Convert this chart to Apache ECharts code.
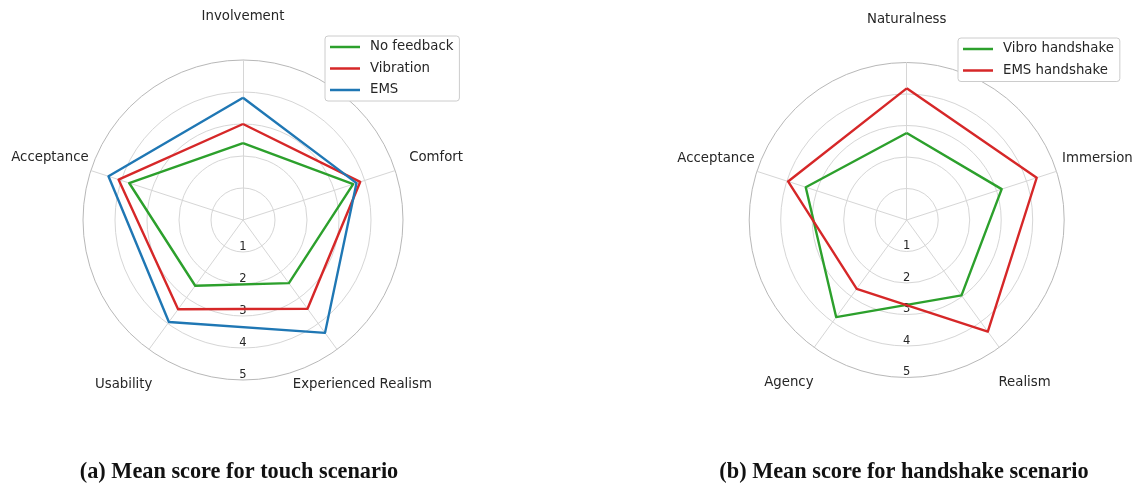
<!DOCTYPE html>
<html>
<head>
<meta charset="utf-8">
<script src="https://cdn.jsdelivr.net/npm/echarts@6/dist/echarts.min.js"></script>
<style>
html,body{margin:0;padding:0;background:#fff;}
#c{width:1136px;height:485px;}
</style>
</head>
<body>
<div id="c"></div>
<script>
// ---- data ----
const touchCategories = ['Involvement', 'Comfort', 'Experienced Realism', 'Usability', 'Acceptance'];
const touchNoFeedback = [2.40, 3.62, 2.44, 2.54, 3.74];
const touchVibration  = [3.00, 3.85, 3.43, 3.45, 4.09];
const touchEMS        = [3.82, 3.73, 4.36, 3.94, 4.42];

const shakeCategories = ['Naturalness', 'Immersion', 'Realism', 'Agency', 'Acceptance'];
const shakeVibro = [2.76, 3.17, 2.96, 3.81, 3.37];
const shakeEMS   = [4.18, 4.34, 4.38, 2.70, 3.96];

const tickLabels = ['1', '2', '3', '4', '5'];
const scoreMax = 5;

const captionA = '(a) Mean score for touch scenario';
const captionB = '(b) Mean score for handshake scenario';

// ---- helpers ----
const GREEN = '#2ca02c', RED = '#d62728', BLUE = '#1f77b4';
const FONT = 'DejaVu Sans';
// ECharts radar runs counter-clockwise; reference runs clockwise -> reorder
function cw(arr) { return [arr[0]].concat(arr.slice(1).reverse()); }

function radarCfg(cats, center, radius) {
  return {
    center: center,
    radius: radius,
    startAngle: 90,
    shape: 'circle',
    splitNumber: 5,
    indicator: cw(cats).map(n => ({ name: n, min: 0, max: scoreMax })),
    nameGap: 43,
    axisName: { color: '#262626', fontSize: 13.3, fontFamily: FONT, align: 'center', verticalAlign: 'middle' },
    splitArea: { show: false },
    splitLine: { lineStyle: { color: ['#d6d6d6', '#d6d6d6', '#d6d6d6', '#d6d6d6', '#d6d6d6', '#b8b8b8'], width: 1 } },
    axisLine: { lineStyle: { color: '#d6d6d6', width: 1 } },
    axisTick: { show: false },
    axisLabel: { show: false }
  };
}
function polarCfg(center, radius) {
  return { center: center, radius: radius };
}
function radarSeries(idx, name, vals, color) {
  return {
    type: 'radar', radarIndex: idx, name: name, symbol: 'none',
    lineStyle: { color: color, width: 2.4 }, itemStyle: { color: color },
    data: [{ value: cw(vals), name: name }]
  };
}
function legendCfg(names, left, top) {
  return {
    data: names, orient: 'vertical', left: left, top: top,
    icon: 'rect', itemWidth: 30, itemHeight: 2.5, itemGap: 5.5,
    padding: [3, 6, 3, 5],
    borderColor: '#cccccc', borderWidth: 1, borderRadius: 3, backgroundColor: '#fff',
    textStyle: { fontFamily: FONT, fontSize: 13.3, color: '#262626', lineHeight: 16, padding: [0, 0, 0, 5] }
  };
}

const centers = [[243, 220], [906.7, 220]];
const radii = [160, 157.5];

const option = {
  animation: false,
  backgroundColor: '#fff',
  radar: [radarCfg(touchCategories, centers[0], radii[0]), radarCfg(shakeCategories, centers[1], radii[1])],
  polar: [polarCfg(centers[0], radii[0]), polarCfg(centers[1], radii[1])],
  angleAxis: [0, 1].map(i => ({
    polarIndex: i, type: 'value', min: 0, max: 360, startAngle: 270,
    axisLine: { show: false }, axisTick: { show: false }, axisLabel: { show: false }, splitLine: { show: false }
  })),
  radiusAxis: [0, 1].map(i => ({
    polarIndex: i, type: 'value', min: 0, max: scoreMax, interval: 1,
    axisLine: { show: false }, axisTick: { show: false }, splitLine: { show: false },
    axisLabel: {
      show: true, margin: 0, align: 'center', verticalAlign: 'bottom', showMinLabel: false,
      fontFamily: FONT, fontSize: 11.5, color: '#262626', padding: [0, 0, -1, 0],
      formatter: v => (v >= 1 ? tickLabels[v - 1] : '')
    }
  })),
  legend: [
    legendCfg(['No feedback', 'Vibration', 'EMS'], 325, 36),
    legendCfg(['Vibro handshake', 'EMS handshake'], 958, 38)
  ],
  title: [
    { text: captionA, left: 234, top: 456, textAlign: 'center',
      textStyle: { fontFamily: 'Liberation Serif', fontWeight: 'bold', fontSize: 22.3, color: '#111' } },
    { text: captionB, left: 899, top: 456, textAlign: 'center',
      textStyle: { fontFamily: 'Liberation Serif', fontWeight: 'bold', fontSize: 22.3, color: '#111' } }
  ],
  series: [
    radarSeries(0, 'No feedback', touchNoFeedback, GREEN),
    radarSeries(0, 'Vibration', touchVibration, RED),
    radarSeries(0, 'EMS', touchEMS, BLUE),
    radarSeries(1, 'Vibro handshake', shakeVibro, GREEN),
    radarSeries(1, 'EMS handshake', shakeEMS, RED)
  ]
};

const chart = echarts.init(document.getElementById('c'), null, { renderer: 'canvas' });
chart.setOption(option);
</script>
</body>
</html>
